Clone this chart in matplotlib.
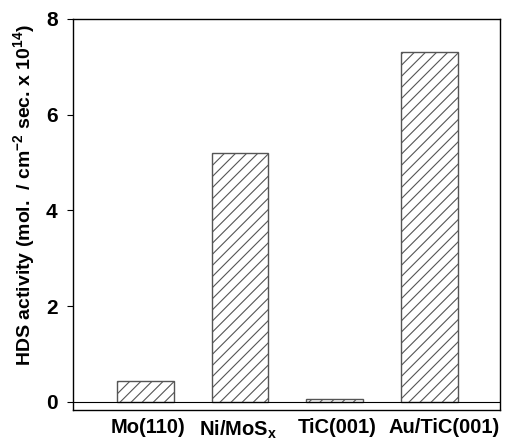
import matplotlib
matplotlib.use("Agg")
import matplotlib.pyplot as plt
import matplotlib.transforms as mtransforms

plt.rcParams['font.family'] = ['Liberation Sans', 'DejaVu Sans']
plt.rcParams['font.weight'] = 'bold'
plt.rcParams['mathtext.fontset'] = 'custom'
plt.rcParams['mathtext.rm'] = 'Liberation Sans:bold'
plt.rcParams['mathtext.bf'] = 'Liberation Sans:bold'
plt.rcParams['mathtext.it'] = 'Liberation Sans:bold'
plt.rcParams['mathtext.default'] = 'bf'
plt.rcParams['hatch.linewidth'] = 0.8

catalysts = ["Mo(110)", "Ni/MoS$_x$", "TiC(001)", "Au/TiC(001)"]
activity = [0.43, 5.2, 0.05, 7.3]

fig = plt.figure(figsize=(5.12, 4.41), dpi=100)
ax = fig.add_axes([0.1426, 0.0703, 0.834, 0.887])

pos = list(range(len(catalysts)))
ax.bar(pos, activity, width=0.6, color='white', edgecolor='#555555',
       hatch='///', linewidth=1.0)
ax.axhline(0, color='black', linewidth=0.8)

ax.set_xlim(-0.76, 3.74)
ax.set_ylim(-0.17, 8)
ax.set_yticks([0, 2, 4, 6, 8])
ax.set_xticks(pos)
ax.set_xticklabels(catalysts, fontsize=14.5, fontweight='bold')
ax.tick_params(axis='x', length=0, pad=6)
ax.tick_params(axis='y', direction='out', length=4, pad=7, labelsize=15)

# nudge the x labels like in the original figure
shifts = [3, -2, 2, 14]
for lab, dx in zip(ax.get_xticklabels(), shifts):
    lab.set_transform(lab.get_transform() +
                      mtransforms.ScaledTranslation(dx / 100, 0, fig.dpi_scale_trans))

ax.set_ylabel("HDS activity (mol.  / cm$^{-2}$ sec. x 10$^{14}$)",
              fontsize=14, fontweight='bold')
ax.yaxis.set_label_coords(-0.085, 0.55)
for s in ax.spines.values():
    s.set_linewidth(1.0)

fig.savefig("out.png", dpi=100)
